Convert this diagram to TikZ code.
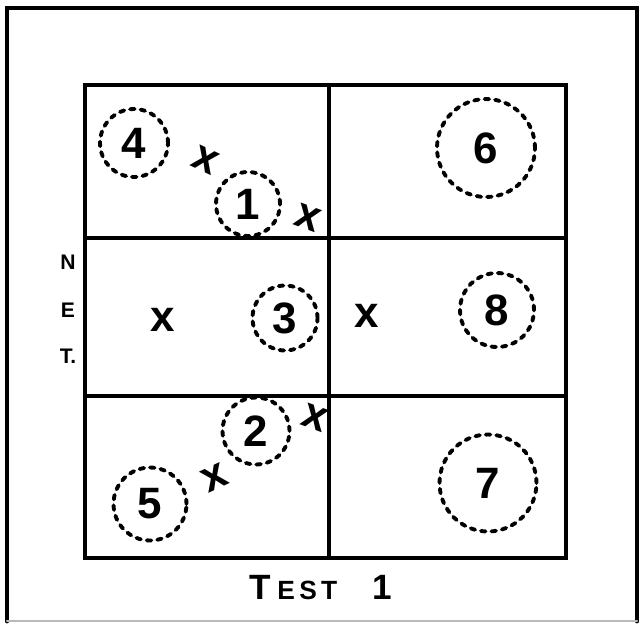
\documentclass[tikz,border=0pt]{standalone}
\usepackage{fontspec}
\setmainfont{Liberation Sans}
\usepackage{tikz}
\usetikzlibrary{positioning}

\begin{document}
\begin{tikzpicture}[
    x=0.02cm, y=-0.02cm,
    frame/.style={line width=2.8pt, line cap=round},
    cell/.style={line width=2.3pt},
    ring/.style={circle, draw, line width=2.2pt, dash pattern=on 2.6pt off 3.4pt, line cap=round, inner sep=0pt, font=\bfseries\fontsize{25}{25}\selectfont},
    xmark/.style={inner sep=0pt, font=\bfseries\fontsize{25}{25}\selectfont},
    side/.style={font=\bfseries\fontsize{12}{12}\selectfont}
]
    \useasboundingbox (0,0) rectangle (641,626);

    % outer frame
    \draw[frame] (7,621) -- (7,8) -- (637,8) -- (637,621);
    \draw[frame, gray!55, line width=1.4pt] (7,621) -- (637,621);

    % grid of six cells
    \draw[cell] (85,85) rectangle (566,558);
    \draw[cell] (329,85) -- (329,558);
    \draw[cell] (85,238) -- (566,238);
    \draw[cell] (85,396) -- (566,396);

    % circled items
    \node[ring, minimum size=1.36cm] (c4) at (134,143) {4};
    \node[ring, minimum size=1.28cm] (c1) at (248,204) {1};
    \node[ring, minimum size=1.96cm] (c6) at (486,148) {6};
    \node[ring, minimum size=1.30cm] (c3) at (285,318) {3};
    \node[ring, minimum size=1.48cm] (c8) at (497,310) {8};
    \node[ring, minimum size=1.34cm] (c2) at (256,431) {2};
    \node[ring, minimum size=1.46cm] (c5) at (150,504) {5};
    \node[ring, minimum size=1.94cm] (c7) at (488,483) {7};

    % crosses
    \node[xmark, rotate=-25] (x1) at (205,160) {x};
    \node[xmark, rotate=-20] (x2) at (308,218) {x};
    \node[xmark] (x3) at (163,320) {x};
    \node[xmark] (x4) at (367,316) {x};
    \node[xmark, rotate=-20] (x5) at (315,418) {x};
    \node[xmark, rotate=25] (x6) at (215,478) {x};

    % axis labels
    \node[side] (n) at (68,262) {N};
    \node[side] (e) at (68,310) {E};
    \node[side] (t) at (68,356) {T.};
    \node[font=\bfseries\fontsize{20}{20}\selectfont] (test) at (321,588) {T\,{\fontsize{15}{15}\selectfont E\,S\,T}\quad 1};
\end{tikzpicture}
\end{document}
